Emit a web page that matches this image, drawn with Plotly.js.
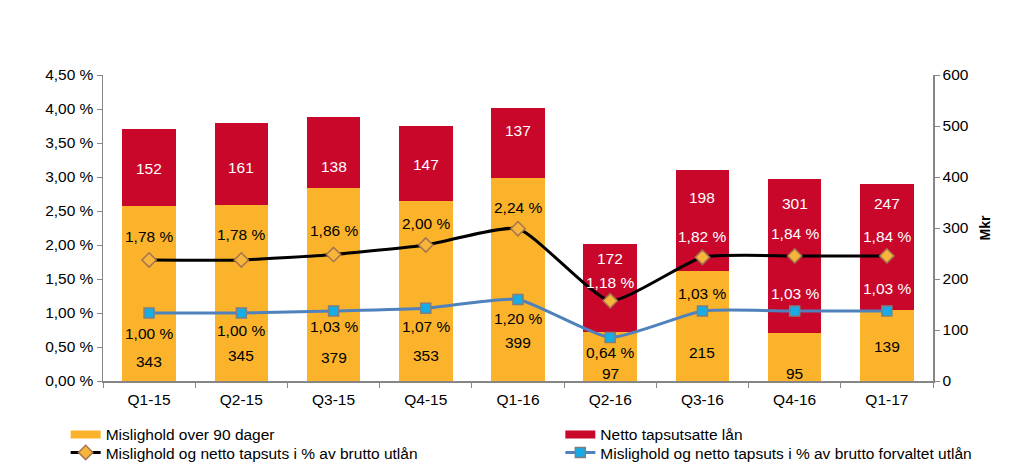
<!DOCTYPE html>
<html>
<head>
<meta charset="utf-8">
<script src="https://cdn.plot.ly/plotly-3.0.1.min.js"></script>
<style>html,body{margin:0;padding:0;background:#fff;}#chart{width:1024px;height:469px;}</style>
</head>
<body>
<div id="chart"></div>
<script>
// ---- data ----
const categories = ['Q1-15','Q2-15','Q3-15','Q4-15','Q1-16','Q2-16','Q3-16','Q4-16','Q1-17'];
const mislighold90 = [343, 345, 379, 353, 399, 97, 215, 95, 139];
const nettoTapsutsatte = [152, 161, 138, 147, 137, 172, 198, 301, 247];
const pctBruttoUtlan = [1.78, 1.78, 1.86, 2.00, 2.24, 1.18, 1.82, 1.84, 1.84];
const pctBruttoForvaltet = [1.00, 1.00, 1.03, 1.07, 1.20, 0.64, 1.03, 1.03, 1.03];
const pctTickVals = [0, 0.5, 1, 1.5, 2, 2.5, 3, 3.5, 4, 4.5];
const mkrTickVals = [0, 100, 200, 300, 400, 500, 600];
const seriesNames = ['Mislighold over 90 dager', 'Netto tapsutsatte lån',
  'Mislighold og netto tapsuts i % av brutto utlån',
  'Mislighold og netto tapsuts i % av brutto forvaltet utlån'];

// ---- label placement (pixel shifts) and colours ----
const yellowLabelShift = [20, 26, 24, 26, 39, 8, 29, 8, 35];
const redLabelShift = [-40, -45, -49, -38, -23, -15, -27, -24, -19];
const blackLabelShift = [23, 25, 24, 22, 21, 18, 21, 22, 19];
const blueLabelShift = [-20, -17, -16, -18, -19, -15, 17, 17, 22];
const blackLabelColor = ['#000','#000','#000','#000','#000','#fff','#fff','#fff','#fff'];
const blueLabelColor = ['#000','#000','#000','#000','#000','#000','#000','#fff','#fff'];

const FONT = 'Arial, "Liberation Sans", sans-serif';
const FS = 15.5;
const YELLOW = '#FAB32B', RED = '#C8072B';
const fmtPct = v => v.toFixed(2).replace('.', ',') + ' %';

const traces = [
  {type:'bar', name:seriesNames[0], x:categories, y:mislighold90, yaxis:'y',
   marker:{color:YELLOW}, width:0.58, showlegend:false, hoverinfo:'skip'},
  {type:'bar', name:seriesNames[1], x:categories, y:nettoTapsutsatte, yaxis:'y',
   marker:{color:RED}, width:0.58, showlegend:false, hoverinfo:'skip'},
  {type:'scatter', mode:'lines+markers', name:seriesNames[2], x:categories, y:pctBruttoUtlan, yaxis:'y2',
   line:{color:'#000000', width:3, shape:'spline', smoothing:0.5},
   marker:{symbol:'diamond', size:11, color:'#F7B53A', line:{color:'#A67552', width:1.5}},
   legend:'legend3', hoverinfo:'skip'},
  {type:'scatter', mode:'lines+markers', name:seriesNames[3], x:categories, y:pctBruttoForvaltet, yaxis:'y2',
   line:{color:'#4F81BD', width:3, shape:'spline', smoothing:0.5},
   marker:{symbol:'square', size:10, color:'#16ACE6', line:{color:'#7F7F7F', width:1.5}},
   legend:'legend4', hoverinfo:'skip'},
  // legend swatches for the bar series (wide band like the original)
  {type:'scatter', mode:'lines', name:seriesNames[0], x:[null], y:[null], yaxis:'y',
   line:{color:YELLOW, width:8}, legend:'legend', hoverinfo:'skip'},
  {type:'scatter', mode:'lines', name:seriesNames[1], x:[null], y:[null], yaxis:'y',
   line:{color:RED, width:8}, legend:'legend2', hoverinfo:'skip'}
];

const annotations = [];
categories.forEach((c, i) => {
  annotations.push({x:c, y:0, yref:'y', xref:'x', text:String(mislighold90[i]), showarrow:false,
    yshift:yellowLabelShift[i], font:{family:FONT, size:FS, color:'#000'}});
  annotations.push({x:c, y:mislighold90[i] + nettoTapsutsatte[i], yref:'y', xref:'x', text:String(nettoTapsutsatte[i]),
    showarrow:false, yshift:redLabelShift[i], font:{family:FONT, size:FS, color:'#fff'}});
  annotations.push({x:c, y:pctBruttoUtlan[i], yref:'y2', xref:'x', text:fmtPct(pctBruttoUtlan[i]), showarrow:false,
    yshift:blackLabelShift[i], font:{family:FONT, size:FS, color:blackLabelColor[i]}});
  annotations.push({x:c, y:pctBruttoForvaltet[i], yref:'y2', xref:'x', text:fmtPct(pctBruttoForvaltet[i]), showarrow:false,
    yshift:blueLabelShift[i], font:{family:FONT, size:FS, color:blueLabelColor[i]}});
});

const legendBase = {bgcolor:'rgba(0,0,0,0)', font:{family:FONT, size:FS, color:'#000'},
  xanchor:'left', yanchor:'middle', traceorder:'normal'};

const layout = {
  width:1024, height:469,
  margin:{l:103, r:91, t:75, b:88, autoexpand:false},
  paper_bgcolor:'#fff', plot_bgcolor:'#fff',
  barmode:'stack',
  font:{family:FONT, size:FS, color:'#000'},
  showlegend:true,
  legend: Object.assign({}, legendBase, {x:-0.045, y:-0.176}),
  legend2: Object.assign({}, legendBase, {x:0.551, y:-0.176}),
  legend3: Object.assign({}, legendBase, {x:-0.045, y:-0.235}),
  legend4: Object.assign({}, legendBase, {x:0.551, y:-0.235}),
  xaxis:{type:'category', range:[-0.5, 8.5], showline:true, linecolor:'#868686', linewidth:1.5,
    ticks:'outside', tickson:'boundaries', ticklen:5, tickcolor:'#868686', showgrid:false, zeroline:false,
    ticklabelstandoff:4, tickfont:{family:FONT, size:FS, color:'#000'}, fixedrange:true},
  yaxis:{range:[0, 600], side:'right', tickvals:mkrTickVals, showline:true, linecolor:'#868686', linewidth:1.5,
    ticks:'outside', ticklen:5, tickcolor:'#868686', showgrid:false, zeroline:false,
    tickfont:{family:FONT, size:FS, color:'#000'},
    title:{text:'<b>Mkr</b>', font:{family:FONT, size:14, color:'#000'}, standoff:12}},
  yaxis2:{range:[0, 4.5], overlaying:'y', side:'left', tickvals:pctTickVals, ticktext:pctTickVals.map(fmtPct),
    showline:true, linecolor:'#868686', linewidth:1.5, ticks:'outside', ticklen:5, tickcolor:'#868686',
    showgrid:false, zeroline:false, tickfont:{family:FONT, size:FS, color:'#000'}},
  annotations: annotations
};

Plotly.newPlot('chart', traces, layout, {staticPlot:true, displayModeBar:false});
</script>
</body>
</html>
